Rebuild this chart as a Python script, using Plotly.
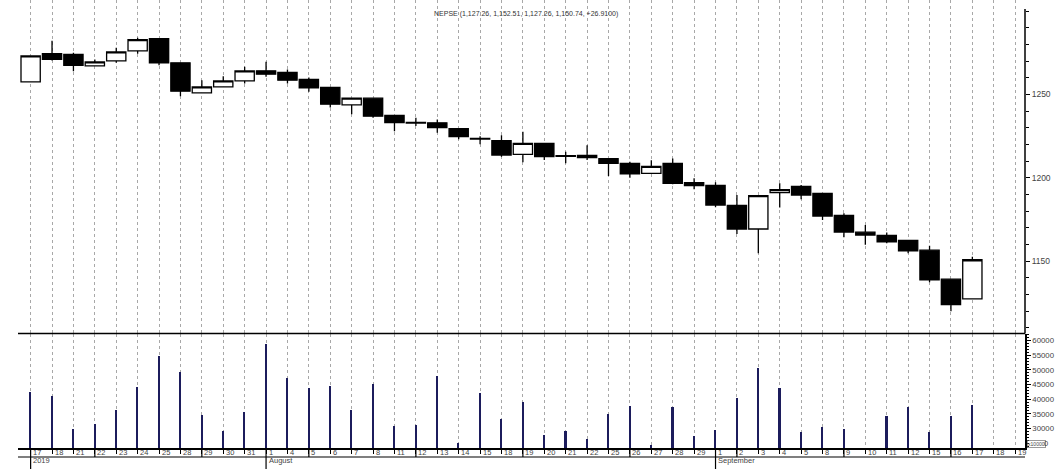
import plotly.graph_objects as go
import pandas as pd

dates = [
    "2019-07-17", "2019-07-18", "2019-07-21", "2019-07-22", "2019-07-23", "2019-07-24",
    "2019-07-25", "2019-07-28", "2019-07-29", "2019-07-30", "2019-07-31",
    "2019-08-01", "2019-08-04", "2019-08-05", "2019-08-06", "2019-08-07", "2019-08-08",
    "2019-08-11", "2019-08-12", "2019-08-13", "2019-08-14", "2019-08-15", "2019-08-18",
    "2019-08-19", "2019-08-20", "2019-08-21", "2019-08-22", "2019-08-25", "2019-08-26",
    "2019-08-27", "2019-08-28", "2019-08-29",
    "2019-09-01", "2019-09-02", "2019-09-03", "2019-09-04", "2019-09-05", "2019-09-08",
    "2019-09-09", "2019-09-10", "2019-09-11", "2019-09-12", "2019-09-15", "2019-09-16",
    "2019-09-17", "2019-09-18", "2019-09-19",
]

opens = [1257.5, 1274.4, 1273.9, 1267.1, 1270.1, 1276.1, 1283.4, 1268.9, 1250.9, 1254.5, 1258.1,
         1264.1, 1263.1, 1258.9, 1254.1, 1243.7, 1247.7, 1237.3, 1233.2, 1232.9, 1229.4, 1223.5,
         1222.2, 1214.0, 1220.6, 1213.2, 1213.4, 1211.4, 1208.6, 1202.6, 1208.6, 1197.0,
         1195.4, 1183.4, 1169.2, 1191.0, 1194.8, 1190.6, 1177.4, 1167.3, 1165.3, 1162.3,
         1156.5, 1139.1, 1127.26]
highs = [1273.1, 1282.1, 1275.0, 1270.9, 1278.0, 1283.9, 1283.6, 1269.0, 1258.5, 1260.9, 1266.5,
         1269.5, 1264.9, 1260.1, 1254.1, 1247.9, 1248.0, 1237.3, 1236.0, 1234.9, 1229.5, 1224.9,
         1225.5, 1227.6, 1220.6, 1215.6, 1219.5, 1211.4, 1209.5, 1210.5, 1211.5, 1199.6,
         1197.2, 1189.6, 1189.2, 1196.6, 1195.6, 1190.6, 1178.6, 1171.6, 1167.1, 1162.3,
         1159.1, 1139.1, 1152.51]
lows = [1257.5, 1270.3, 1263.9, 1267.1, 1269.0, 1274.4, 1267.4, 1248.9, 1250.9, 1254.1, 1256.5,
        1260.5, 1256.5, 1251.5, 1242.1, 1238.1, 1236.0, 1227.9, 1231.0, 1227.0, 1223.0, 1220.1,
        1212.6, 1209.2, 1210.6, 1208.6, 1210.6, 1201.0, 1200.0, 1202.3, 1196.0, 1193.0,
        1182.2, 1166.2, 1154.7, 1182.1, 1187.0, 1174.6, 1164.3, 1159.7, 1160.7, 1154.7,
        1137.3, 1119.8, 1127.26]
closes = [1273.1, 1271.0, 1267.4, 1269.5, 1275.5, 1282.8, 1268.9, 1251.9, 1254.5, 1258.1, 1264.1,
          1262.1, 1258.5, 1253.9, 1244.1, 1247.7, 1236.9, 1233.0, 1232.8, 1230.0, 1224.6, 1223.2,
          1213.6, 1220.6, 1212.6, 1212.8, 1212.0, 1208.6, 1202.3, 1206.8, 1196.6, 1195.2,
          1183.6, 1169.2, 1189.2, 1192.8, 1189.6, 1177.0, 1167.4, 1165.6, 1161.5, 1156.1,
          1138.7, 1123.83, 1150.74]

volumes = [42620, 41150, 29800, 31370, 36380, 44320, 54890, 49440, 34680, 29230, 35700,
           58870, 47390, 43980, 44660, 36380, 45140, 30930, 31270, 48070, 25030, 42280, 33210,
           39210, 27860, 29230, 26500, 34920, 37750, 24460, 37300, 27520,
           29570, 40570, 50800, 43780, 28650, 30350, 29800, 23300, 34100, 37300, 28780, 34100,
           38090]

title_text = "NEPSE (1,127.26, 1,152.51, 1,127.26, 1,150.74, +26.9100)"
price_ticks = [1150, 1200, 1250]
volume_ticks = [30000, 35000, 40000, 45000, 50000, 55000, 60000]
volume_ticklabels = ["30000", "35000", "40000", "45000", "50000", "55000", "60000"]

FONT = "Liberation Sans, Arial, sans-serif"
TXT = "#444444"

fig = go.Figure()
fig.add_trace(go.Candlestick(
    x=dates[:len(opens)], open=opens, high=highs, low=lows, close=closes,
    xaxis="x", yaxis="y", whiskerwidth=0,
    increasing=dict(fillcolor="white", line=dict(color="black", width=1.3)),
    decreasing=dict(fillcolor="black", line=dict(color="black", width=1.3)),
    showlegend=False, hoverinfo="skip",
))
fig.add_trace(go.Bar(
    x=dates[:len(volumes)], y=volumes, xaxis="x", yaxis="y2",
    marker=dict(color="#1c1c5c", line=dict(width=0)), width=0.075,
    showlegend=False, hoverinfo="skip",
))

PLOT_H = 448.0
def py(pix):
    return (PLOT_H - pix) / PLOT_H

fig.update_layout(
    width=1064, height=473,
    margin=dict(l=18, r=39, t=0, b=25),
    paper_bgcolor="white", plot_bgcolor="white",
    boxgap=0.1, boxgroupgap=0,
    bargap=0,
    font=dict(family=FONT, size=8, color=TXT),
    xaxis=dict(
        type="category", categoryorder="array", categoryarray=dates,
        range=[-0.59, 46.46], anchor="y2",
        tickmode="linear", tick0=0, dtick=1,
        showticklabels=False, ticks="outside", ticklen=4, tickcolor="black", tickwidth=1,
        showgrid=True, gridcolor="#a8a8a8", gridwidth=1, griddash="3px,3px",
        showline=True, linecolor="black", linewidth=1.5,
        rangeslider=dict(visible=False), zeroline=False, fixedrange=True,
    ),
    yaxis=dict(
        domain=[py(333), 1], side="right", anchor="x",
        range=[1106.8, 1306.6],
        tickmode="array", tickvals=price_ticks, ticks="outside", ticklen=4,
        tickcolor="black", showgrid=False, zeroline=False,
        showline=False,
        tickfont=dict(size=8.5, color=TXT, family=FONT),
        minor=dict(dtick=10, tick0=0, ticks="outside", ticklen=3, tickcolor="black", showgrid=False),
    ),
    yaxis2=dict(
        domain=[0, py(334)], side="right", anchor="x",
        range=[23330, 62280],
        tickmode="array", tickvals=volume_ticks, ticktext=volume_ticklabels,
        ticks="outside", ticklen=4,
        tickcolor="black", showgrid=False, zeroline=False,
        showline=True, linecolor="black", linewidth=1.5,
        tickfont=dict(size=7.8, color=TXT, family=FONT),
        minor=dict(dtick=1000, tick0=0, ticks="outside", ticklen=2, tickcolor="black", showgrid=False),
    ),
)

shapes = []
# price axis line (starts just above the top tick)
shapes.append(dict(type="line", xref="paper", yref="paper", x0=1, x1=1,
                   y0=py(333.5), y1=py(9), line=dict(color="black", width=1.5)))
shapes.append(dict(type="line", xref="paper", yref="paper", x0=0, x1=1,
                   y0=py(333.5), y1=py(333.5), line=dict(color="black", width=1.5)))
shapes.append(dict(type="line", xref="paper", yref="paper", x0=0, x1=1,
                   y0=py(457), y1=py(457), line=dict(color="black", width=1.2)))

ts = pd.to_datetime(pd.Series(dates))
annotations = []
prev_month = None
month_names = {7: "2019", 8: "August", 9: "September"}
for d, t in zip(dates, ts):
    annotations.append(dict(x=d, xref="x", y=py(452.5), yref="paper", text=str(t.day),
                            showarrow=False, xanchor="left", yanchor="middle", xshift=0.5,
                            font=dict(size=7.5, color=TXT, family=FONT)))
    if t.month != prev_month:
        shapes.append(dict(type="line", xref="x", yref="paper", x0=d, x1=d,
                           y0=py(448), y1=py(469), line=dict(color="black", width=1.2)))
        annotations.append(dict(x=d, xref="x", y=py(460.8), yref="paper", text=month_names[t.month],
                                showarrow=False, xanchor="left", yanchor="middle", xshift=0.5,
                                font=dict(size=7.5, color=TXT, family=FONT)))
        prev_month = t.month
    elif t.weekday() == 0:
        shapes.append(dict(type="line", xref="x", yref="paper", x0=d, x1=d,
                           y0=py(448), y1=py(457), line=dict(color="black", width=1.2)))

annotations.append(dict(x=0.5, xref="paper", y=py(14.5), yref="paper", text=title_text,
                        showarrow=False, xanchor="center", yanchor="middle", xshift=4,
                        font=dict(size=7, color="#333333", family=FONT)))
annotations.append(dict(x=1, xref="paper", y=py(443.5), yref="paper", text="x10000",
                        showarrow=False, xanchor="left", yanchor="middle", xshift=2,
                        bordercolor="#555555", borderwidth=0.6, borderpad=0.5,
                        font=dict(size=5, color=TXT, family=FONT)))
annotations.append(dict(x=1, xref="paper", y=py(443.5), yref="paper", text="0",
                        showarrow=False, xanchor="left", yanchor="middle", xshift=17,
                        font=dict(size=7.5, color=TXT, family=FONT)))

fig.update_layout(shapes=shapes, annotations=annotations)
fig.write_html("out.html", config={"displayModeBar": False},
               post_script="document.body.style.margin='0px';")
